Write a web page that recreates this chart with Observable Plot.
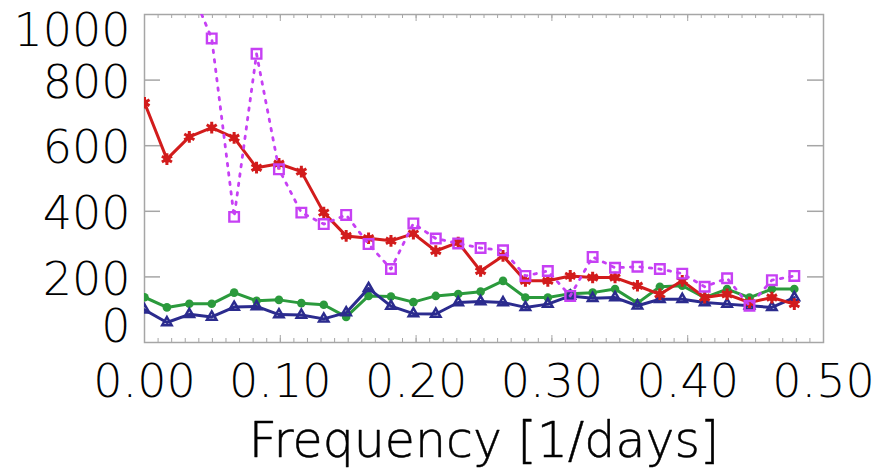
<!DOCTYPE html>
<html><head><meta charset="utf-8">
<script src="https://cdn.jsdelivr.net/npm/d3@7"></script>
<script src="https://cdn.jsdelivr.net/npm/@observablehq/plot@0.6"></script>
<style>body{margin:0;background:#fff}</style>
</head><body><div id="chart"></div>
<script>
// Frequencies [1/days]
const freq = [0, 0.0165, 0.033, 0.0495, 0.066, 0.0825, 0.099, 0.1155, 0.132, 0.1485,
  0.165, 0.1815, 0.198, 0.2145, 0.231, 0.2475, 0.264, 0.2805, 0.297, 0.3135,
  0.33, 0.3465, 0.363, 0.3795, 0.396, 0.4125, 0.429, 0.4455, 0.462, 0.4785];
// Series values
const redSeries = [731, 559, 627, 655, 624, 533, 545, 521, 396, 325, 318, 310, 332, 279, 305,
  218, 264, 188, 188, 203, 198, 198, 173, 147, 188, 137, 147, 122, 137, 117];
const magentaSeries = [1300, 1200, 1090, 927, 383, 880, 528, 396, 361, 389, 300, 224, 363, 317, 302,
  288, 281, 203, 218, 142, 261, 228, 231, 224, 210, 170, 196, 112, 190, 203];
const greenSeries = [138, 107, 118, 118, 152, 127, 130, 120, 115, 78, 142, 140, 123, 142, 148,
  155, 188, 137, 137, 149, 152, 163, 120, 170, 173, 137, 163, 137, 163, 163];
const blueSeries = [100, 61, 86, 78, 108, 110, 85, 84, 72, 91, 165, 111, 88, 87, 122,
  125, 122, 107, 117, 142, 135, 137, 112, 132, 132, 122, 117, 112, 107, 137];
// Ticks and labels
const xTicks = [0, 0.1, 0.2, 0.3, 0.4, 0.5];
const xTickLabels = ["0.00", "0.10", "0.20", "0.30", "0.40", "0.50"];
const xMinorTicks = d3.range(0, 51).map(i => i / 100);
const yTicks = [0, 200, 400, 600, 800, 1000];
const yTickLabels = ["0", "200", "400", "600", "800", "1000"];
const xLabel = "Frequency [1/days]";

const rows = vals => freq.map((f, i) => ({f, v: vals[i]}));
const gray = "#a6a6a6";
const cRed = "#d21c1c", cMag = "#c640f4", cGreen = "#2b9a3c", cBlue = "#2b2b8e";
const W = 876, H = 469, ML = 144, MR = 53, MT = 14, MB = 127;
const IW = W - ML - MR, IH = H - MT - MB;
const fmtX = d => xTickLabels[xTicks.indexOf(d)];
const fmtY = d => yTickLabels[yTicks.indexOf(d)];
const txt = {fontSize: 46, fontWeight: 300, fill: "#000", stroke: "#000", strokeWidth: 0.5, label: null};

const chart = Plot.plot({
  width: W, height: H,
  marginLeft: ML, marginRight: MR, marginTop: MT, marginBottom: MB,
  style: {fontFamily: "DejaVu Sans", background: "#fff", color: "#222"},
  x: {domain: [0, 0.5], axis: null},
  y: {domain: [0, 1000], axis: null},
  marks: [
    // inward ticks
    Plot.tickX(xMinorTicks, {x: d => d, insetTop: IH - 4, stroke: gray}),
    Plot.tickX(xMinorTicks, {x: d => d, insetBottom: IH - 4, stroke: gray}),
    Plot.tickX(xTicks, {x: d => d, insetTop: IH - 7, stroke: gray}),
    Plot.tickX(xTicks, {x: d => d, insetBottom: IH - 7, stroke: gray}),
    Plot.tickY(yTicks.slice(1, 5), {y: d => d, insetRight: IW - 16, stroke: gray, strokeWidth: 1.5}),
    Plot.tickY(yTicks.slice(1, 5), {y: d => d, insetLeft: IW - 16, stroke: gray, strokeWidth: 1.5}),
    Plot.frame({stroke: gray, strokeWidth: 1.5}),
    // tick labels
    Plot.axisX(xTicks, {anchor: "bottom", tickSize: 0, tickPadding: 22, tickFormat: fmtX, ...txt}),
    Plot.axisY(yTicks.slice(1, 5), {anchor: "left", tickSize: 0, tickPadding: 14, dy: 3, tickFormat: fmtY, ...txt}),
    Plot.axisY([yTicks[5]], {anchor: "left", tickSize: 0, tickPadding: 14, dy: 17, tickFormat: fmtY, ...txt}),
    Plot.axisY([yTicks[0]], {anchor: "left", tickSize: 0, tickPadding: 14, dy: -15, tickFormat: fmtY, ...txt}),
    Plot.text([xLabel], {text: d => d, frameAnchor: "bottom", lineAnchor: "top", dy: 80, fontSize: 49, fontWeight: 300, fill: "#000", stroke: "#000", strokeWidth: 0.5}),
    // green
    Plot.line(rows(greenSeries), {x: "f", y: "v", stroke: cGreen, strokeWidth: 3, clip: true}),
    Plot.dot(rows(greenSeries), {x: "f", y: "v", symbol: "circle", fill: cGreen, r: 4.3, clip: true}),
    // blue
    Plot.line(rows(blueSeries), {x: "f", y: "v", stroke: cBlue, strokeWidth: 3, clip: true}),
    Plot.dot(rows(blueSeries), {x: "f", y: "v", symbol: "triangle", stroke: cBlue, fill: "none", strokeWidth: 2.5, r: 3.5, clip: true}),
    // red
    Plot.line(rows(redSeries), {x: "f", y: "v", stroke: cRed, strokeWidth: 3, clip: true}),
    Plot.dot(rows(redSeries), {x: "f", y: "v", symbol: "asterisk", stroke: cRed, strokeWidth: 3, r: 5.5, clip: true}),
    Plot.dot(rows(redSeries), {x: "f", y: "v", symbol: "circle", fill: cRed, r: 3.5, clip: true}),
    // magenta
    Plot.line(rows(magentaSeries), {x: "f", y: "v", stroke: cMag, strokeWidth: 2.8, strokeDasharray: "2.5,7", clip: true}),
    Plot.dot(rows(magentaSeries), {x: "f", y: "v", symbol: "square", stroke: cMag, fill: "none", strokeWidth: 2.4, r: 5.4, clip: true})
  ]
});
document.getElementById("chart").appendChild(chart);
</script>
</body></html>
